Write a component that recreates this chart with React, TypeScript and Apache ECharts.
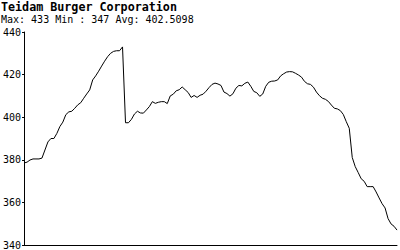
import React, { useEffect, useRef } from "react";
import * as echarts from "echarts";

const titleText = "Teidam Burger Corporation";
const subtitleText = "Max: 433 Min : 347 Avg: 402.5098";
const yTicks = [340, 360, 380, 400, 420, 440];
const prices = [
  378.5, 378.9, 379.9, 380.4, 380.4, 380.4, 380.8, 384.6, 388.4, 390,
  390, 392.4, 395.6, 397.7, 401.2, 402.5, 402.8, 404.2, 405.8, 406.8,
  408.9, 410.9, 412.8, 417.5, 419.4, 421.6, 424, 426.3, 428.4, 430,
  430.9, 431.2, 431.2, 433, 397.4, 397.4, 399, 401.5, 402.8, 402,
  401.9, 403.4, 405, 407.3, 406.5, 407, 407.3, 407.3, 406.4, 410,
  410.8, 412.4, 412.9, 414.2, 412.9, 411.6, 409.3, 410.2, 409.3, 410.3,
  410.8, 412.2, 413.9, 415.4, 416, 415.6, 414.9, 411.8, 411.1, 409.9,
  411, 413.6, 414.9, 414.7, 415.9, 416.5, 414.5, 412.1, 411.5, 409.8,
  410.9, 414.5, 416.4, 416.9, 417, 417.5, 419.4, 420.4, 421.2, 421.4,
  421.3, 420.6, 419.8, 418.8, 416.8, 415.7, 415.4, 414.1, 411.8, 410.1,
  408.9, 408.4, 407.4, 405.7, 404.2, 403.9, 403.1, 401.3, 397.9, 394.8,
  381.1, 376.8, 374, 371.1, 369.9, 367.4, 367.4, 367.4, 364.9, 362.1,
  359.4, 357.4, 352.4, 349.9, 348.8, 347,
];
const days = prices.map((_, i) => String(i + 1));

const FONT = "'DejaVu Sans Mono', monospace";

export default function App() {
  const ref = useRef<HTMLDivElement>(null);
  useEffect(() => {
    const chart = echarts.init(ref.current!, null, { renderer: "svg" });
    chart.setOption({
      animation: false,
      backgroundColor: "#ffffff",
      title: {
        text: titleText,
        subtext: subtitleText,
        left: 1,
        top: 1,
        padding: 0,
        itemGap: 1,
        textStyle: { fontFamily: FONT, fontSize: 11.7, fontWeight: "bold", color: "#000" },
        subtextStyle: { fontFamily: FONT, fontSize: 10, color: "#000" },
      },
      grid: { left: 21, right: 3, top: 32, bottom: 5 },
      xAxis: {
        type: "category",
        data: days,
        boundaryGap: false,
        axisLine: { show: true, lineStyle: { color: "#000", width: 1 } },
        axisTick: { show: false },
        axisLabel: { show: false },
        splitLine: { show: false },
      },
      yAxis: {
        type: "value",
        min: yTicks[0],
        max: yTicks[yTicks.length - 1],
        interval: 20,
        axisLine: { show: true, lineStyle: { color: "#000", width: 1 } },
        axisTick: { show: true, length: 2, lineStyle: { color: "#000" } },
        axisLabel: { color: "#000", fontFamily: FONT, fontSize: 10, margin: 3 },
        splitLine: { show: false },
      },
      series: [
        {
          type: "line",
          data: prices,
          showSymbol: false,
          symbol: "none",
          lineStyle: { color: "#000", width: 1 },
        },
      ],
    });
    return () => chart.dispose();
  }, []);
  return <div ref={ref} style={{ width: 400, height: 250, position: "absolute", left: 0, top: 0 }} />;
}
